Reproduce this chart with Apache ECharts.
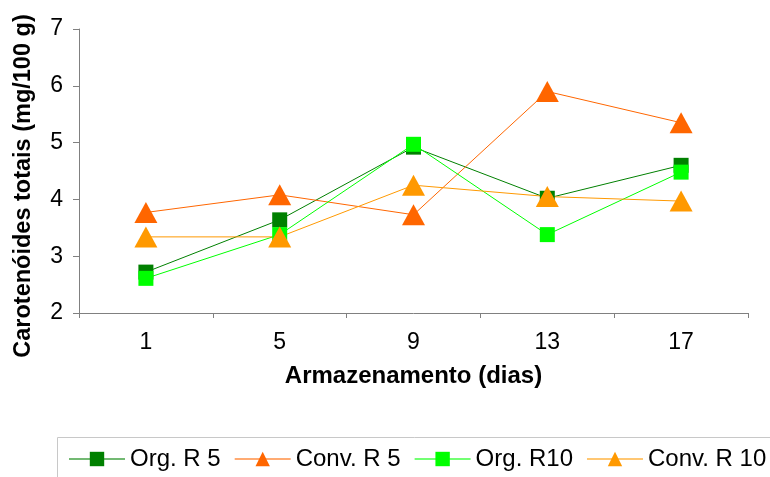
<!DOCTYPE html>
<html>
<head>
<meta charset="utf-8">
<script src="https://cdn.jsdelivr.net/npm/echarts@6/dist/echarts.min.js"></script>
<style>html,body{margin:0;padding:0;background:#fff}#c{width:770px;height:477px}</style>
</head>
<body>
<div id="c"></div>
<script>
var categories = ['1', '5', '9', '13', '17'];
var orgR5 = [2.72, 3.64, 4.92, 4.02, 4.6];
var convR5 = [3.77, 4.08, 3.73, 5.9, 5.35];
var orgR10 = [2.61, 3.38, 4.97, 3.38, 4.48];
var convR10 = [3.34, 3.34, 4.25, 4.05, 3.97];
var seriesNames = ['Org. R 5', 'Conv. R 5', 'Org. R10', 'Conv. R 10'];
var yTitle = 'Carotenóides totais (mg/100 g)';
var xTitle = 'Armazenamento (dias)';

var FONT = 'Arial, "Liberation Sans", sans-serif';
var chart = echarts.init(document.getElementById('c'), null, {renderer: 'canvas'});

function mk(name, data, color, symbol, size) {
  return {
    name: name, type: 'line', data: data,
    symbol: symbol, symbolSize: size,
    lineStyle: {color: color, width: 1},
    itemStyle: {color: color},
    animation: false
  };
}

chart.setOption({
  animation: false,
  grid: {left: 79, right: 22, top: 29, bottom: 164, containLabel: false},
  xAxis: {
    type: 'category', data: categories, boundaryGap: true,
    axisLine: {lineStyle: {color: '#808080', width: 1}},
    axisTick: {show: true, length: 5, lineStyle: {color: '#808080'}},
    axisLabel: {color: '#000', fontSize: 23, fontFamily: FONT, margin: 18},
    name: xTitle, nameLocation: 'middle', nameGap: 51,
    nameTextStyle: {color: '#000', fontSize: 24, fontWeight: 'bold', fontFamily: FONT}
  },
  yAxis: {
    type: 'value', min: 2, max: 7, interval: 1,
    splitLine: {show: false},
    axisLine: {show: true, lineStyle: {color: '#808080', width: 1}},
    axisTick: {show: true, length: 6, lineStyle: {color: '#808080'}},
    axisLabel: {color: '#000', fontSize: 23, fontFamily: FONT, margin: 16}
  },
  legend: {
    data: seriesNames,
    left: 68, top: 447, padding: 0,
    itemWidth: 56, itemHeight: 18, itemGap: 13,
    lineStyle: {opacity: 0.55},
    textStyle: {color: '#000', fontSize: 24, fontFamily: FONT}
  },
  graphic: [
    {type: 'rect', shape: {x: 57.5, y: 437.5, width: 720, height: 60},
     style: {fill: 'none', stroke: '#c8c8c8', lineWidth: 1}, silent: true},
    {type: 'text', x: 24, y: 186, rotation: Math.PI / 2,
     style: {text: yTitle, fill: '#000', font: 'bold 23.5px ' + FONT, textAlign: 'center', textVerticalAlign: 'middle'}}
  ],
  series: [
    mk(seriesNames[0], orgR5, '#008000', 'rect', 15),
    mk(seriesNames[1], convR5, '#FF6600', 'triangle', [23, 21]),
    mk(seriesNames[2], orgR10, '#00FF00', 'rect', 15),
    mk(seriesNames[3], convR10, '#FF9900', 'triangle', [23, 21])
  ]
});
</script>
</body>
</html>
